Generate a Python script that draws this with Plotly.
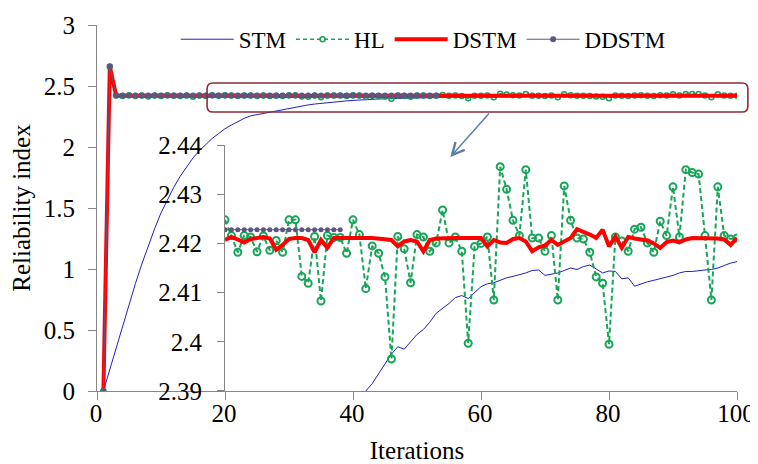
import plotly.graph_objects as go

# ---------------- data ----------------
iterations = list(range(1, 101))

stm = [0.0, 0.18, 0.36, 0.54, 0.71, 0.88, 1.04, 1.19, 1.33, 1.46,
       1.57, 1.67, 1.76, 1.84, 1.91, 1.97, 2.02, 2.07, 2.11, 2.15,
       2.18, 2.21, 2.235, 2.255, 2.265, 2.278, 2.29, 2.30, 2.31, 2.32,
       2.329, 2.337, 2.345, 2.352, 2.358, 2.364, 2.369, 2.374, 2.378, 2.382,
       2.386, 2.3900, 2.3915, 2.3935, 2.3955, 2.3975, 2.3990, 2.3985, 2.4000, 2.4015,
       2.4025, 2.4040, 2.4058, 2.4068, 2.4078, 2.4090, 2.4094, 2.4088, 2.4100, 2.4112,
       2.4118, 2.4120, 2.4125, 2.4130, 2.4133, 2.4136, 2.4140, 2.4145, 2.4146, 2.4135,
       2.4138, 2.4140, 2.4145, 2.4150, 2.4147, 2.4153, 2.4156, 2.4148, 2.4140, 2.4144,
       2.4143, 2.4128, 2.4130, 2.4113, 2.4118, 2.4122, 2.4125, 2.4128, 2.4132, 2.4135,
       2.4140, 2.4143, 2.4143, 2.4145, 2.4146, 2.4147, 2.4150, 2.4155, 2.4160, 2.4163]

hl = [0.0, 2.66, 2.4215, 2.4183, 2.4248, 2.4190, 2.4213, 2.4133, 2.4216, 2.4182,
      2.4248, 2.4201, 2.4185, 2.4216, 2.4120, 2.4213, 2.4190, 2.4235, 2.4205, 2.4248,
      2.4216, 2.4182, 2.4216, 2.4213, 2.4183, 2.4215, 2.4186, 2.4206, 2.4182, 2.4248,
      2.4248, 2.4133, 2.4119, 2.4214, 2.4083, 2.4216, 2.4212, 2.4212, 2.4180, 2.4248,
      2.4218, 2.4108, 2.4195, 2.4180, 2.4132, 2.3965, 2.4214, 2.4189, 2.4120, 2.4218,
      2.4213, 2.4184, 2.4201, 2.4268, 2.4201, 2.4213, 2.4184, 2.3997, 2.4194, 2.4200,
      2.4213, 2.4085, 2.4356, 2.4310, 2.4247, 2.4216, 2.4350, 2.4211, 2.4211, 2.4184,
      2.4216, 2.4085, 2.4317, 2.4247, 2.4211, 2.4209, 2.4182, 2.4132, 2.4119, 2.3995,
      2.4213, 2.4205, 2.4184, 2.4229, 2.4233, 2.4201, 2.4182, 2.4245, 2.4216, 2.4315,
      2.4213, 2.4350, 2.4344, 2.4341, 2.4216, 2.4085, 2.4315, 2.4216, 2.4209, 2.4211]

dstm = [0.0, 2.66, 2.4210, 2.4212, 2.4208, 2.4211, 2.4205, 2.4210, 2.4212, 2.4209,
        2.4211, 2.4207, 2.4210, 2.4211, 2.4208, 2.4210, 2.4212, 2.4209, 2.4210, 2.4207,
        2.4213, 2.4208, 2.4202, 2.4209, 2.4212, 2.4213, 2.4210, 2.4187, 2.4197, 2.4209,
        2.4211, 2.4211, 2.4207, 2.4182, 2.4207, 2.4191, 2.4211, 2.4210, 2.4211, 2.4211,
        2.4210, 2.4211, 2.4211, 2.4210, 2.4209, 2.4207, 2.4194, 2.4204, 2.4207, 2.4204,
        2.4184, 2.4207, 2.4210, 2.4211, 2.4210, 2.4211, 2.4211, 2.4212, 2.4211, 2.4211,
        2.4194, 2.4207, 2.4202, 2.4201, 2.4209, 2.4211, 2.4204, 2.4184, 2.4192, 2.4196,
        2.4207, 2.4197, 2.4205, 2.4211, 2.4229, 2.4224, 2.4218, 2.4211, 2.4228, 2.4194,
        2.4214, 2.4191, 2.4213, 2.4210, 2.4209, 2.4206, 2.4200, 2.4191, 2.4203, 2.4206,
        2.4202, 2.4208, 2.4211, 2.4211, 2.4211, 2.4210, 2.4210, 2.4208, 2.4197, 2.4211]

ddstm = [0.0, 2.66, 2.4228, 2.4228, 2.4228, 2.4228, 2.4228, 2.4228, 2.4228, 2.4228,
         2.4228, 2.4228, 2.4228, 2.4228, 2.4228, 2.4228, 2.4228, 2.4228, 2.4228, 2.4228,
         2.4228, 2.4228, 2.4228, 2.4228, 2.4228, 2.4228, 2.4228, 2.4228, 2.4228, 2.4228,
         2.4228, 2.4228, 2.4228, 2.4228, 2.4228, 2.4228, 2.4228, 2.4228, 2.4228, 2.4228,
         2.4228, 2.4228, 2.4228, 2.4228, 2.4228, 2.4228, 2.4228, 2.4228, 2.4228, 2.4228,
         2.4228, 2.4228, 2.4228]

inset_first_iter = 20
ddstm_inset_last_iter = 38

x_tick_vals = [0, 20, 40, 60, 80, 100]
x_tick_text = ["0", "20", "40", "60", "80", "100"]
y_tick_vals = [0, 0.5, 1, 1.5, 2, 2.5, 3]
y_tick_text = ["0", "0.5", "1", "1.5", "2", "2.5", "3"]
inset_y_tick_vals = [2.39, 2.40, 2.41, 2.42, 2.43, 2.44]
inset_y_tick_text = ["2.39", "2.4", "2.41", "2.42", "2.43", "2.44"]

# ---------------- styles ----------------
FONT = "Liberation Serif"
C_STM = "#1f1fc4"
C_HL = "#17a558"
C_DSTM = "#ff0000"
C_DD = "#5f5580"
AXIS_C = "#868686"

fig = go.Figure()

i0 = inset_first_iter - 1
ddx = iterations[:len(ddstm)]

# main chart
fig.add_trace(go.Scatter(x=iterations, y=stm, name="STM", mode="lines",
                         line=dict(color=C_STM, width=1)))
fig.add_trace(go.Scatter(x=iterations, y=hl, name="HL", mode="lines+markers",
                         line=dict(color=C_HL, width=1.5, dash="4px,3px"),
                         marker=dict(symbol="circle-open", size=5, color=C_HL,
                                     line=dict(width=1.5, color=C_HL))))
fig.add_trace(go.Scatter(x=iterations, y=dstm, name="DSTM", mode="lines",
                         line=dict(color=C_DSTM, width=4)))
fig.add_trace(go.Scatter(x=ddx, y=ddstm, name="DDSTM", mode="lines+markers",
                         line=dict(color=C_DD, width=1),
                         marker=dict(symbol="circle", size=6, color=C_DD)))

# inset
fig.add_trace(go.Scatter(x=iterations[i0:], y=stm[i0:], mode="lines", showlegend=False,
                         line=dict(color=C_STM, width=1), xaxis="x2", yaxis="y2"))
fig.add_trace(go.Scatter(x=iterations[i0:], y=hl[i0:], mode="lines+markers", showlegend=False,
                         line=dict(color=C_HL, width=2, dash="5px,3px"),
                         marker=dict(symbol="circle-open", size=7, color=C_HL,
                                     line=dict(width=2, color=C_HL)),
                         xaxis="x2", yaxis="y2"))
fig.add_trace(go.Scatter(x=iterations[i0:], y=dstm[i0:], mode="lines", showlegend=False,
                         line=dict(color=C_DSTM, width=4), xaxis="x2", yaxis="y2"))
fig.add_trace(go.Scatter(x=ddx[i0:ddstm_inset_last_iter], y=ddstm[i0:ddstm_inset_last_iter],
                         mode="lines+markers", showlegend=False,
                         line=dict(color=C_DD, width=1),
                         marker=dict(symbol="circle", size=5, color=C_DD),
                         xaxis="x2", yaxis="y2"))

tickfont = dict(family=FONT, size=25, color="black")

# helper: main-axis data coords -> paper coords
XR = (0, 100)
YR = (0, 3)
def px(v):
    return (v - XR[0]) / (XR[1] - XR[0])
def py(v):
    return (v - YR[0]) / (YR[1] - YR[0])

# rounded highlight box around the converged band (in main data units)
bx0, bx1, by0, by1 = 17.2, 101.7, 2.287, 2.525
rx, ry = 0.9, 0.05
x0, x1, y0, y1 = px(bx0), px(bx1), py(by0), py(by1)
rxp, ryp = px(rx), py(ry)
path = (f"M{x0+rxp},{y1} L{x1-rxp},{y1} Q{x1},{y1} {x1},{y1-ryp} "
        f"L{x1},{y0+ryp} Q{x1},{y0} {x1-rxp},{y0} L{x0+rxp},{y0} "
        f"Q{x0},{y0} {x0},{y0+ryp} L{x0},{y1-ryp} Q{x0},{y1} {x0+rxp},{y1} Z")

# the page body has an 8px margin, so the figure is sized/margined to compensate
fig.update_layout(
    width=750, height=456,
    margin=dict(l=89, r=21, t=17, b=73, autoexpand=False),
    paper_bgcolor="white", plot_bgcolor="rgba(0,0,0,0)",
    font=dict(family=FONT, color="black"),
    xaxis=dict(range=[0, 100], domain=[0, 1], tickvals=x_tick_vals, ticktext=x_tick_text,
               showline=True, linecolor=AXIS_C, linewidth=1.2, ticks="outside",
               ticklen=8, tickcolor=AXIS_C, tickfont=tickfont, showgrid=False, zeroline=False,
               automargin=False, ticklabelstandoff=-8, ticklabelshift=-1,
               title=dict(text="Iterations", font=dict(family=FONT, size=25), standoff=18)),
    yaxis=dict(range=[0, 3], domain=[0, 1], tickvals=y_tick_vals, ticktext=y_tick_text,
               showline=True, linecolor=AXIS_C, linewidth=1.2, ticks="outside",
               ticklen=8, tickcolor=AXIS_C, tickfont=tickfont, showgrid=False, zeroline=False,
               ticklabelstandoff=8, automargin=False,
               title=dict(text="Reliability index", font=dict(family=FONT, size=25), standoff=7)),
    xaxis2=dict(range=[20, 100], domain=[0.2, 1], anchor="y2", showticklabels=False,
                showline=True, linecolor=AXIS_C, linewidth=1.2, ticks="",
                showgrid=False, zeroline=False, automargin=False),
    yaxis2=dict(range=[2.39, 2.44], domain=[0, 0.672], anchor="x2",
                tickvals=inset_y_tick_vals, ticktext=inset_y_tick_text,
                showline=True, linecolor=AXIS_C, linewidth=1.2, ticks="outside",
                ticklen=7, tickcolor=AXIS_C, tickfont=tickfont, showgrid=False, zeroline=False,
                ticklabelstandoff=10, automargin=False),
    legend=dict(orientation="h", x=0.123, xanchor="left", y=0.961, yanchor="middle",
                font=dict(family=FONT, size=23, color="black"), itemwidth=53,
                bgcolor="rgba(0,0,0,0)", tracegroupgap=0),
    shapes=[dict(type="path", xref="paper", yref="paper", path=path,
                 line=dict(color="#8b2d3a", width=1.6), fillcolor="rgba(0,0,0,0)")],
    annotations=[dict(xref="paper", yref="paper", x=px(55.2), y=py(1.918),
                      ax=40, ay=-45, text="", showarrow=True, arrowhead=5,
                      arrowsize=1.6, arrowwidth=1.5, arrowcolor="#5a7faa")],
)

fig.write_html("out.html")
